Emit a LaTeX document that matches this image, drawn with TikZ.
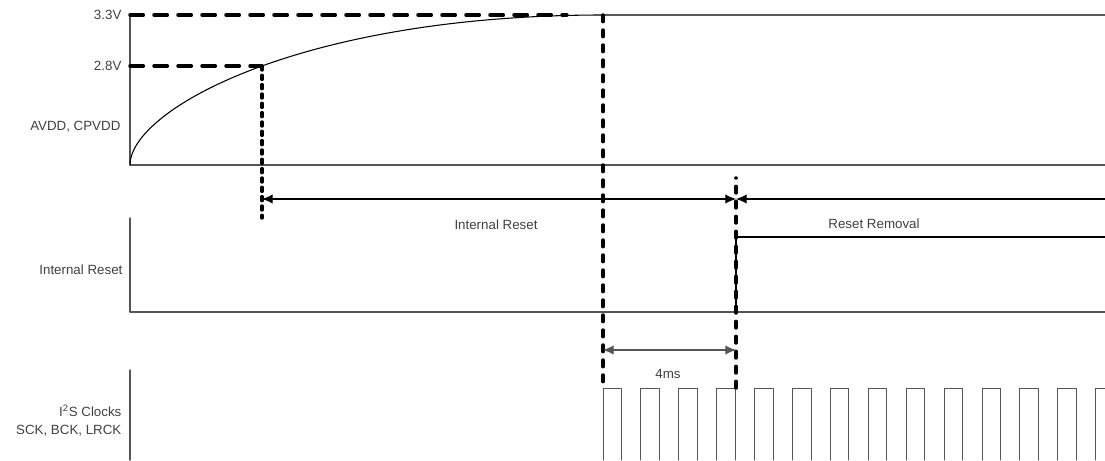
\documentclass[tikz,border=0pt]{standalone}
\usepackage{fontspec}
\setmainfont{Liberation Sans}
\usetikzlibrary{arrows.meta}
\definecolor{axisgray}{HTML}{555555}
\definecolor{txtgray}{HTML}{404040}
\begin{document}
\begin{tikzpicture}[x=0.75pt,y=-0.75pt,line cap=round,line join=round,>={Latex[length=8pt,width=7pt]},
  axis/.style={line width=1pt,draw=axisgray},
  sig/.style={line width=0.8pt},
  clk/.style={line width=0.7pt,draw=axisgray},
  guide/.style={line width=2.6pt,line cap=round},
  guidelong/.style={guide,dash pattern=on 10pt off 8pt},
  guidemid/.style={guide,dash pattern=on 5pt off 6.25pt},
  guideshort/.style={guide,dash pattern=on 3pt off 4pt},
  lbl/.style={font=\fontsize{10}{13.5}\selectfont,text=txtgray,inner sep=1pt}]
  \clip (0,0) rectangle (1105,460);
  % key points
  \coordinate (ramp28) at (262,66);
  \coordinate (ramp33) at (603,15);
  \coordinate (irL) at (262,199);
  \coordinate (irR) at (736,199);
  \coordinate (irEnd) at (1105,199);
  \coordinate (msL) at (603,350);
  \coordinate (msR) at (736,350);
  % supply
  \draw[axis] (130,15) -- (130,165) -- (1105,165);
  \draw[sig] (130,165) .. controls (130,110) and (300,15) .. (ramp33) -- (1105,15);
  % internal reset
  \draw[axis] (130,218) -- (130,312) -- (1105,312);
  \draw[sig] (736,312) -- (736,237) -- (1105,237);
  % clocks
  \draw[axis] (130,370) -- (130,460);
  \foreach \i in {0,...,13}
    \draw[clk] ({603+37.9*\i},460) -- ++(0,-72) -- ++(18.5,0) -- ++(0,72);
  % guides
  \draw[guidelong] (130,15) -- (567,15);
  \draw[guidelong] (130,66) -- (ramp28);
  \draw[guideshort] (ramp28) -- (262,218);
  \draw[guidemid] (ramp33) -- (603,385);
  \draw[guidemid] (736,388) -- (736,178);
  % spans
  \draw[sig,<->] (irL) -- (irR);
  \draw[sig,->] (irEnd) -- (irR);
  \draw[sig,<->,draw=axisgray] (msL) -- (msR);
  % labels
  \node[lbl,anchor=east] (l33) at (123,15) {3.3V};
  \node[lbl,anchor=east] (l28) at (123,66) {2.8V};
  \node[lbl,anchor=east] (lsup) at (122,127) {AVDD, CPVDD};
  \node[lbl] (lir) at (496,225) {Internal Reset};
  \node[lbl] (lrr) at (874,224) {Reset Removal};
  \node[lbl,anchor=east] (lrst) at (124,270) {Internal Reset};
  \node[lbl] (l4ms) at (668,374) {4ms};
  \node[lbl,anchor=east,align=right] (lclk) at (123,421) {I\textsuperscript{2}S Clocks\\SCK, BCK, LRCK};
\end{tikzpicture}
\end{document}
